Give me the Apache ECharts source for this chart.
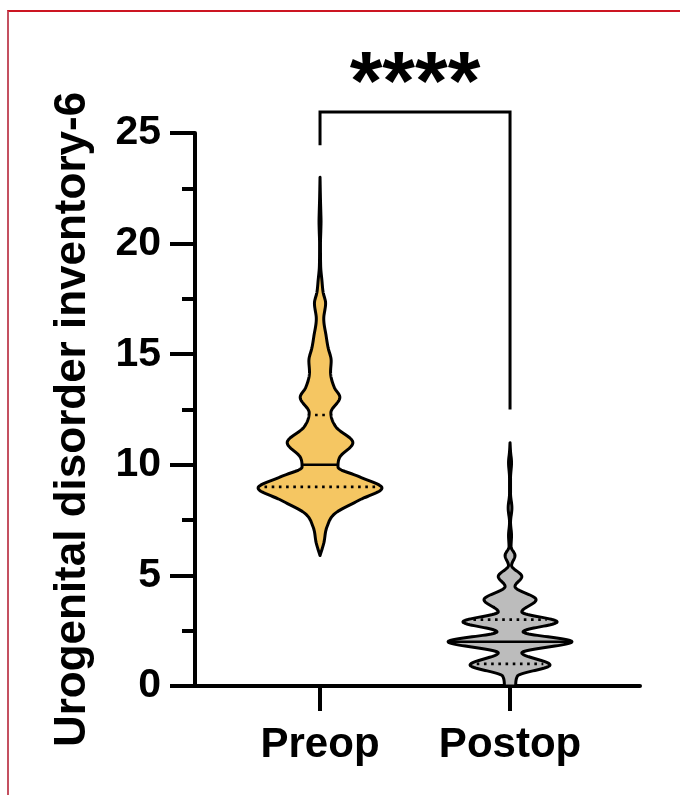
<!DOCTYPE html>
<html><head><meta charset="utf-8">
<script src="https://cdn.jsdelivr.net/npm/echarts@6/dist/echarts.min.js"></script>
<style>
html,body{margin:0;padding:0;background:#fff;}
#wrap{position:relative;width:680px;height:795px;overflow:hidden;background:#fff;}
#chart{position:absolute;left:0;top:0;width:680px;height:795px;}
#frame{position:absolute;left:7px;top:10px;width:720px;height:820px;border-left:2px solid #c45060;border-top:2px solid #cc1522;pointer-events:none;}
</style></head><body>
<div id="wrap"><div id="chart"></div><div id="frame"></div></div>
<script>
// ---- data ----
const categories = ['Preop', 'Postop'];
const yTicks = [0, 5, 10, 15, 20, 25];
const yAxisTitle = 'Urogenital disorder inventory-6';
const sigLabel = '****';

// violin outline: score levels and relative half-width (1 = widest)
const preopLevels = [5.9, 6.45, 7.2, 7.8, 8.4, 8.95, 9.45, 9.9, 10.35, 11.0, 11.7, 12.35, 13.05, 13.5, 14.2, 14.7, 15.3, 15.8, 16.6, 17.3, 17.8, 18.35, 19.0, 20.0, 20.6, 21.0, 21.4, 22.0, 23.0];
const preopWidths = [0, 0.06, 0.113, 0.242, 0.63, 1.0, 0.645, 0.29, 0.32, 0.53, 0.26, 0.175, 0.32, 0.23, 0.17, 0.18, 0.13, 0.10, 0.06, 0.09, 0.05, 0.03, 0.01, 0.007, 0.013, 0.016, 0.013, 0.007, 0];
const postopLevels = [0, 0.45, 0.95, 1.5, 2.0, 2.45, 2.9, 3.35, 3.9, 4.5, 4.95, 5.45, 5.9, 6.3, 6.8, 7.4, 8.05, 8.7, 9.4, 10.1, 10.6, 11.0];
const postopWidths = [0.09, 0.12, 0.645, 0.19, 1.0, 0.21, 0.76, 0.19, 0.42, 0.08, 0.19, 0.025, 0.08, 0.016, 0.024, 0.008, 0.03, 0.008, 0.008, 0.024, 0.008, 0];
// quartiles: [Q1, median, Q3]
const preopQuartiles = [9, 10, 12.25];
const postopQuartiles = [1, 2, 3];
// significance bracket levels: [left leg end, top, right leg end]
const bracketLevels = [24.45, 25.95, 12.5];

// ---- styling ----
const FONT = '"Liberation Sans", Arial, Helvetica, sans-serif';
const HALF = 0.326;          // widest half-width in x-axis units
const X_MIN = -0.658, X_MAX = 1.684;
const groups = [
  {levels: preopLevels, widths: preopWidths, q: preopQuartiles, fill: '#F5C662'},
  {levels: postopLevels, widths: postopWidths, q: postopQuartiles, fill: '#BCBCBC'}
];

function monotone(xs, ys) {
  const n = xs.length, d = [], m = new Array(n);
  for (let i = 0; i < n - 1; i++) d.push((ys[i + 1] - ys[i]) / (xs[i + 1] - xs[i]));
  m[0] = d[0]; m[n - 1] = d[n - 2];
  for (let i = 1; i < n - 1; i++) m[i] = (d[i - 1] * d[i] <= 0) ? 0 : (d[i - 1] + d[i]) / 2;
  for (let i = 0; i < n - 1; i++) {
    if (d[i] === 0) { m[i] = 0; m[i + 1] = 0; continue; }
    const a = m[i] / d[i], b = m[i + 1] / d[i], s = a * a + b * b;
    if (s > 9) { const t = 3 / Math.sqrt(s); m[i] = t * a * d[i]; m[i + 1] = t * b * d[i]; }
  }
  return function (x) {
    if (x <= xs[0]) return ys[0];
    if (x >= xs[n - 1]) return ys[n - 1];
    let i = 0;
    while (i < n - 2 && x > xs[i + 1]) i++;
    const h = xs[i + 1] - xs[i], t = (x - xs[i]) / h, t2 = t * t, t3 = t2 * t;
    return (2 * t3 - 3 * t2 + 1) * ys[i] + (t3 - 2 * t2 + t) * h * m[i] + (-2 * t3 + 3 * t2) * ys[i + 1] + (t3 - t2) * h * m[i + 1];
  };
}

function renderViolin(params, api) {
  const gi = params.dataIndex;
  const g = groups[gi];
  const xc = api.value(0);
  const f = monotone(g.levels, g.widths);
  const lo = g.levels[0], hi = g.levels[g.levels.length - 1];
  const N = 500;
  const right = [], left = [];
  for (let k = 0; k <= N; k++) {
    const y = lo + (hi - lo) * k / N;
    const w = Math.max(0, f(y)) * HALF;
    right.push(api.coord([xc + w, y]));
    left.push(api.coord([xc - w, y]));
  }
  const pts = right.concat(left.reverse());
  const children = [{
    type: 'polygon', shape: {points: pts},
    style: {fill: g.fill, stroke: '#000', lineWidth: 3, lineJoin: 'round'}
  }];
  g.q.forEach(function (qv, qi) {
    const w = Math.max(0, f(qv)) * HALF;
    const p1 = api.coord([xc - w, qv]), p2 = api.coord([xc + w, qv]);
    const inset = qi === 1 ? 1 : 6;
    children.push({
      type: 'line',
      shape: {x1: p1[0] + inset, y1: p1[1], x2: p2[0] - inset, y2: p2[1]},
      style: qi === 1 ? {stroke: '#000', lineWidth: 2.6} : {stroke: '#000', lineWidth: 2.6, lineDash: [2.6, 4.6]}
    });
  });
  return {type: 'group', children: children};
}

function renderBracket(params, api) {
  const a = api.coord([0, bracketLevels[0]]);
  const b = api.coord([0, bracketLevels[1]]);
  const c = api.coord([1, bracketLevels[1]]);
  const d = api.coord([1, bracketLevels[2]]);
  const t = api.coord([0.5, 27.1]);
  return {type: 'group', children: [
    {type: 'polyline', shape: {points: [a, b, c, d]}, style: {stroke: '#000', lineWidth: 3, fill: null}},
    {type: 'text', x: t[0], y: t[1], style: {text: sigLabel, font: 'bold 84px ' + FONT, fill: '#000', align: 'center', verticalAlign: 'middle'}}
  ]};
}

const chart = echarts.init(document.getElementById('chart'), null, {renderer: 'canvas'});
chart.setOption({
  animation: false,
  backgroundColor: 'transparent',
  grid: {left: 195, right: 40, top: 133, bottom: 109, containLabel: false, outerBoundsMode: 'none'},
  xAxis: {
    type: 'value', min: X_MIN, max: X_MAX,
    splitLine: {show: false},
    axisLine: {show: true, onZero: false, lineStyle: {color: '#000', width: 4}},
    axisTick: {show: true, customValues: [0, 1], length: 25, lineStyle: {color: '#000', width: 4}},
    axisLabel: {customValues: [0, 1], formatter: function (v) { return categories[Math.round(v)]; },
      color: '#000', fontSize: 42, fontWeight: 'bold', fontFamily: FONT, margin: 38}
  },
  yAxis: {
    type: 'value', min: yTicks[0], max: yTicks[yTicks.length - 1], interval: yTicks[1] - yTicks[0],
    splitLine: {show: false},
    axisLine: {show: true, onZero: false, lineStyle: {color: '#000', width: 4}},
    axisTick: {show: true, length: 25, lineStyle: {color: '#000', width: 4}},
    minorTick: {show: true, splitNumber: 2, length: 13, lineStyle: {color: '#000', width: 4}},
    axisLabel: {color: '#000', fontSize: 41, fontWeight: 'bold', fontFamily: FONT, margin: 34},
    name: yAxisTitle, nameLocation: 'middle', nameGap: 100,
    nameTextStyle: {color: '#000', fontSize: 44, fontWeight: 'bold', fontFamily: FONT, padding: [0, 0, 0, -20]}
  },
  series: [
    {type: 'custom', name: 'violins', clip: false, renderItem: renderViolin, data: [[0], [1]], z: 3},
    {type: 'custom', name: 'bracket', clip: false, renderItem: renderBracket, data: [[0]], z: 4}
  ]
});
</script>
</body></html>
